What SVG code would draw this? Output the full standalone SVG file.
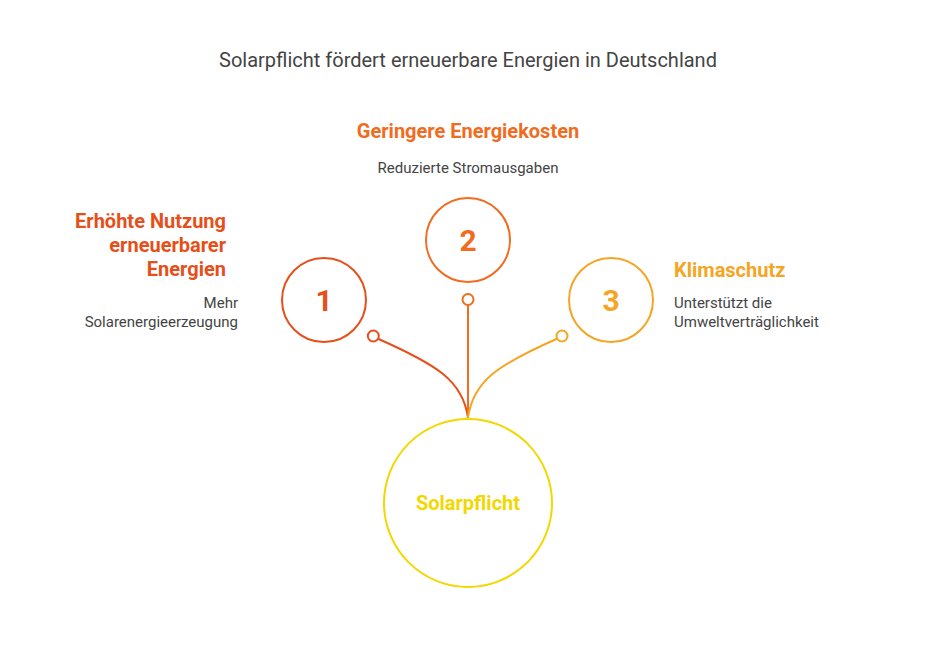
<svg xmlns="http://www.w3.org/2000/svg" width="936" height="659" viewBox="0 0 936 659">
<style>
text{font-family:Roboto,"Liberation Sans",sans-serif}
.title{font-size:20px;fill:#444}
.head{font-size:20px;font-weight:700}
.desc{font-size:15px;fill:#444}
.num{font-size:30px;font-weight:700;text-anchor:middle}
.ring{fill:#fff;stroke-width:2}
.conn{fill:none;stroke-width:2}
.dot{fill:#fff;stroke-width:2}
</style>
<rect width="936" height="659" fill="#fff"/>
<text class="title" x="468" y="67" text-anchor="middle">Solarpflicht fördert erneuerbare Energien in Deutschland</text>
<g id="connectors">
<path class="conn" stroke="#E5501A" d="M377.5,338.5 C435,364 463,380 468,418"/>
<path class="conn" stroke="#F06C1E" d="M468,305 L468,418"/>
<path class="conn" stroke="#F5A524" d="M557.5,338.5 C500,364 473,380 468,418"/>
<circle class="dot" cx="373.3" cy="336" r="5.5" stroke="#E5501A"/>
<circle class="dot" cx="468" cy="299.5" r="5.5" stroke="#F06C1E"/>
<circle class="dot" cx="562" cy="336" r="5.5" stroke="#F5A524"/>
</g>
<g id="node-center">
<circle class="ring" cx="468" cy="503" r="84" stroke="#F2D800"/>
<text x="468" y="510" text-anchor="middle" style="font-size:20px;font-weight:700;fill:#F2D800">Solarpflicht</text>
</g>
<g id="node-1">
<circle class="ring" cx="324" cy="300" r="42" stroke="#E5501A"/>
<text class="num" x="324" y="311" fill="#E5501A">1</text>
<text class="head" fill="#E5501A" text-anchor="end"><tspan x="226" y="228">Erhöhte Nutzung</tspan><tspan x="226" y="252">erneuerbarer</tspan><tspan x="226" y="276">Energien</tspan></text>
<text class="desc" text-anchor="end"><tspan x="238" y="308">Mehr</tspan><tspan x="238" y="327">Solarenergieerzeugung</tspan></text>
</g>
<g id="node-2">
<circle class="ring" cx="468" cy="240" r="42" stroke="#F06C1E"/>
<text class="num" x="468" y="251" fill="#F06C1E">2</text>
<text class="head" x="468" y="138" text-anchor="middle" fill="#F06C1E">Geringere Energiekosten</text>
<text class="desc" x="468" y="173" text-anchor="middle">Reduzierte Stromausgaben</text>
</g>
<g id="node-3">
<circle class="ring" cx="611" cy="300" r="42" stroke="#F5A524"/>
<text class="num" x="611" y="311" fill="#F5A524">3</text>
<text class="head" x="674" y="277" fill="#F5A524">Klimaschutz</text>
<text class="desc"><tspan x="674" y="308">Unterstützt die</tspan><tspan x="674" y="327">Umweltverträglichkeit</tspan></text>
</g>
</svg>
